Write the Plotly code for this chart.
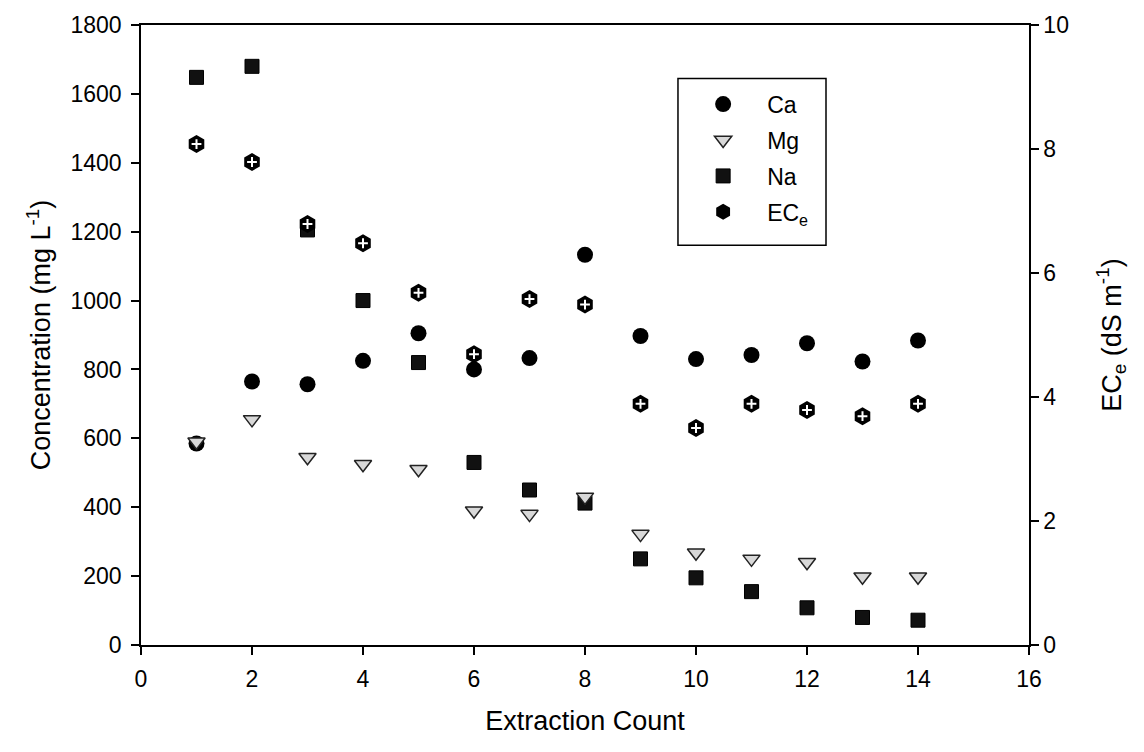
import plotly.graph_objects as go

extraction = [1, 2, 3, 4, 5, 6, 7, 8, 9, 10, 11, 12, 13, 14]
ca = [585, 765, 757, 825, 905, 800, 833, 1133, 897, 830, 842, 876, 823, 884]
mg = [590, 655, 545, 525, 510, 390, 380, 430, 322, 268, 250, 240, 198, 198]
na = [1648, 1680, 1205, 1000, 820, 530, 450, 412, 250, 195, 155, 108, 80, 72]
ece = [8.08, 7.79, 6.79, 6.48, 5.68, 4.69, 5.58, 5.49, 3.89, 3.50, 3.89, 3.79, 3.69, 3.89]

FONT = "Liberation Sans, Arial, sans-serif"

fig = go.Figure()
fig.add_trace(go.Scatter(x=extraction, y=ca, mode="markers", name="Ca", legendgroup="a",
                         legendrank=1,
                         marker=dict(symbol="circle", size=16, color="black")))
fig.add_trace(go.Scatter(x=extraction, y=na, mode="markers", name="Na", legendgroup="c",
                         legendrank=3,
                         marker=dict(symbol="square", size=14, color="#111111",
                                     line=dict(color="black", width=1))))
fig.add_trace(go.Scatter(x=extraction, y=mg, mode="markers", name="Mg", legendgroup="b",
                         legendrank=2,
                         marker=dict(symbol="triangle-down", size=15, color="#d8d8d8",
                                     line=dict(color="#222222", width=1.5))))
fig.add_trace(go.Scatter(x=extraction, y=ece, mode="markers", name="EC<sub>e</sub>",
                         legendgroup="d", legendrank=4, yaxis="y2",
                         marker=dict(symbol="hexagon", size=18, color="black")))
fig.add_trace(go.Scatter(x=extraction, y=ece, mode="markers", showlegend=False,
                         yaxis="y2", hoverinfo="skip",
                         marker=dict(symbol="cross-thin", size=7, color="white",
                                     line=dict(color="white", width=2))))

axis_common = dict(showline=True, linecolor="black", linewidth=1.5,
                   ticks="outside", ticklen=8, tickcolor="black", tickwidth=1.5,
                   showgrid=False, zeroline=False,
                   tickfont=dict(family=FONT, size=23, color="black"))

TITLE_FONT = dict(family=FONT, size=27, color="black")

fig.update_layout(
    width=1144, height=752,
    margin=dict(l=141, r=115, t=20, b=107),
    paper_bgcolor="white", plot_bgcolor="white",
    font=dict(family=FONT, color="black"),
    xaxis=dict(range=[0, 16], dtick=2, mirror=True, ticklabelstandoff=5,
               title=dict(text="Extraction Count", font=TITLE_FONT, standoff=20),
               **axis_common),
    yaxis=dict(range=[0, 1800], dtick=200, ticklabelstandoff=5,
               title=dict(text="Concentration (mg L<sup>-1</sup>)", font=TITLE_FONT, standoff=12),
               **axis_common),
    yaxis2=dict(range=[0, 10], dtick=2, overlaying="y", side="right",
                title=dict(text="EC<sub>e</sub> (dS m<sup>-1</sup>)", font=TITLE_FONT, standoff=34),
                **axis_common),
    legend=dict(x=0.606, y=0.907, xanchor="left", yanchor="top",
                bgcolor="rgba(0,0,0,0)", borderwidth=0,
                font=dict(family=FONT, size=23, color="black"),
                itemwidth=78, tracegroupgap=3),
    shapes=[dict(type="rect", xref="paper", yref="paper",
                 x0=0.6047, x1=0.7714, y0=0.6448, y1=0.9136,
                 line=dict(color="black", width=1.5), fillcolor="rgba(0,0,0,0)",
                 layer="below")],
    showlegend=True,
)

fig.write_html("out.html")
